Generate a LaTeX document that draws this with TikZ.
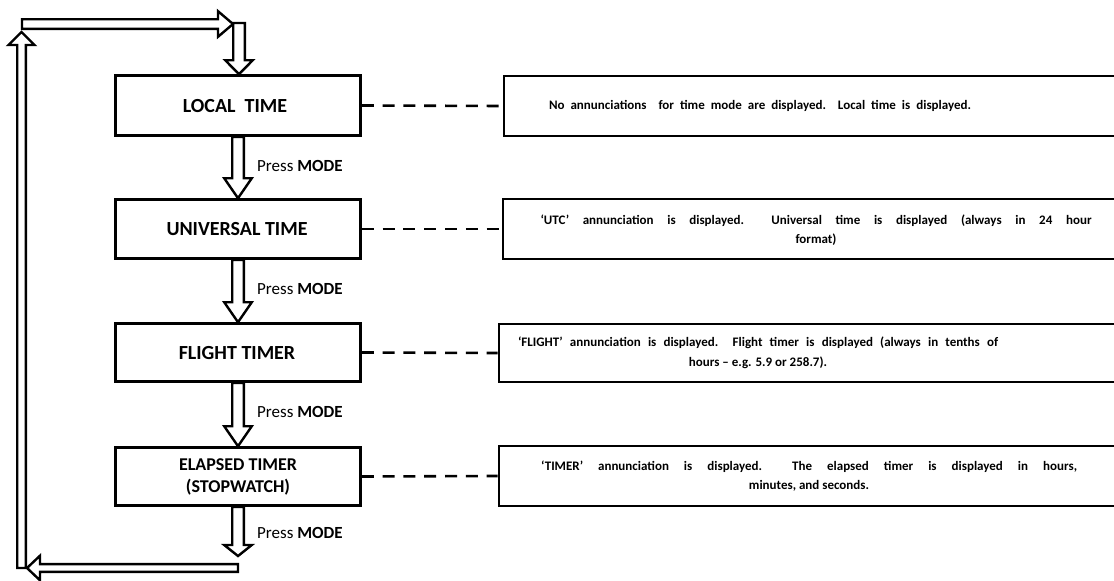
\documentclass[tikz,border=0pt]{standalone}
\usepackage{fontspec}
\setmainfont{Carlito}
\usetikzlibrary{calc}
\tikzset{
  box/.style={draw, line width=2.6pt, fill=white, inner sep=0pt},
  blk/.style={draw, line width=2.4pt, fill=white, line join=miter},
  dashconn/.style={line width=2.6pt, dash pattern=on 12pt off 8.8pt},
  lbl/.style={font=\fontsize{20}{22}\selectfont\bfseries, align=center, inner sep=0pt},
  lbltwo/.style={font=\fontsize{18}{22}\selectfont\bfseries, align=center, inner sep=0pt},
  desc/.style={font=\fontsize{13}{19.5}\selectfont\bfseries, align=center, inner sep=0pt},
  press/.style={font=\fontsize{17}{19}\selectfont, anchor=west, inner sep=0pt},
}
% block arrows: from, to, shaft half width, head half width, head length
\newcommand\blkdown[5]{\draw[blk] let \p1=(#1),\p2=(#2) in
  (\x1-#3,\y1) -- (\x1+#3,\y1) -- (\x1+#3,\y2+#5) -- (\x1+#4,\y2+#5) -- (\x1,\y2)
  -- (\x1-#4,\y2+#5) -- (\x1-#3,\y2+#5) -- cycle;}
\newcommand\blkup[5]{\draw[blk] let \p1=(#1),\p2=(#2) in
  (\x1-#3,\y1) -- (\x1+#3,\y1) -- (\x1+#3,\y2-#5) -- (\x1+#4,\y2-#5) -- (\x1,\y2)
  -- (\x1-#4,\y2-#5) -- (\x1-#3,\y2-#5) -- cycle;}
\newcommand\blkright[5]{\draw[blk] let \p1=(#1),\p2=(#2) in
  (\x1,\y1+#3) -- (\x1,\y1-#3) -- (\x2-#5,\y1-#3) -- (\x2-#5,\y1-#4) -- (\x2,\y1)
  -- (\x2-#5,\y1+#4) -- (\x2-#5,\y1+#3) -- cycle;}
\newcommand\blkleft[5]{\draw[blk] let \p1=(#1),\p2=(#2) in
  (\x1,\y1+#3) -- (\x1,\y1-#3) -- (\x2+#5,\y1-#3) -- (\x2+#5,\y1-#4) -- (\x2,\y1)
  -- (\x2+#5,\y1+#4) -- (\x2+#5,\y1+#3) -- cycle;}
\begin{document}
\begin{tikzpicture}[x=1pt,y=-1pt]
\useasboundingbox (0,0) rectangle (1114,581);
\clip (0,0) rectangle (1114,581);

% left mode boxes
\node[box, minimum width=245pt, minimum height=60pt] (L1) at (238,105.5) {};
\node[box, minimum width=245pt, minimum height=59pt] (L2) at (238,229) {};
\node[box, minimum width=245pt, minimum height=58pt] (L3) at (238,352.5) {};
\node[box, minimum width=245pt, minimum height=58pt] (L4) at (238,476.5) {};
\node[lbl] (L1t) at (235,106) {LOCAL\ \ TIME};
\node[lbl] (L2t) at (237,229) {UNIVERSAL TIME};
\node[lbl] (L3t) at (237,353) {FLIGHT TIMER};
\node[lbltwo] (L4t) at (238,477) {ELAPSED TIMER\\(STOPWATCH)};

% right description boxes
\node[box, minimum width=620pt, minimum height=60pt] (R1) at (814,106) {};
\node[box, minimum width=620pt, minimum height=60pt] (R2) at (813,229) {};
\node[box, minimum width=624pt, minimum height=58pt] (R3) at (811,353) {};
\node[box, minimum width=624pt, minimum height=60pt] (R4) at (811,476) {};
\node[desc] (R1t) at (760,106) {\makebox[422pt][s]{No annunciations\ \ for time\ mode are displayed.\ \ Local\ time is displayed.}};
\node[desc] (R2t) at (816,230) {\makebox[551pt][s]{‘UTC’ annunciation\ is displayed.\ \ Universal time is displayed (always in 24 hour}\\format)};
\node[desc] (R3t) at (758,353) {\makebox[480pt][s]{‘FLIGHT’ annunciation\ is displayed.\ \ Flight\ timer is displayed (always in tenths\ of}\\hours – e.g. 5.9 or 258.7).};
\node[desc] (R4t) at (809,476) {\makebox[536pt][s]{‘TIMER’ annunciation\ is displayed.\ \ The elapsed timer is displayed in hours,}\\minutes,\ and\ seconds.};

% dashed links
\draw[dashconn] (L1.east) -- (R1.west);
\draw[dashconn] (L2.east) -- (R2.west);
\draw[dashconn] (L3.east) -- (R3.west);
\draw[dashconn] (L4.east) -- (R4.west);

% press labels
\node[press] (P1) at (257,166) {Press \textbf{MODE}};
\node[press] (P2) at (257,289) {Press \textbf{MODE}};
\node[press] (P3) at (257,412) {Press \textbf{MODE}};
\node[press] (P4) at (257,533) {Press \textbf{MODE}};

% arrows between boxes
\blkdown{L1.south}{L2.north}{5.8pt}{13.8pt}{20pt}
\blkdown{L2.south}{L3.north}{5.8pt}{13.8pt}{20pt}
\blkdown{L3.south}{L4.north}{5.8pt}{13.8pt}{20pt}

% return loop
\coordinate (d1) at (238,556);
\coordinate (h1) at (238,568);
\coordinate (h2) at (27,568);
\coordinate (u1) at (21.5,568);
\coordinate (u2) at (21.5,32);
\coordinate (r1) at (22,24);
\coordinate (r2) at (233,24);
\coordinate (t1) at (239,23);
\blkdown{L4.south}{d1}{5.8pt}{13.8pt}{11pt}
\blkup{u1}{u2}{4.3pt}{13pt}{13pt}
\blkleft{h1}{h2}{3.9pt}{12.3pt}{13pt}
\blkright{r1}{r2}{4.8pt}{12.8pt}{15pt}
\blkdown{t1}{L1.north}{5.8pt}{13.8pt}{14pt}
\end{tikzpicture}
\end{document}
